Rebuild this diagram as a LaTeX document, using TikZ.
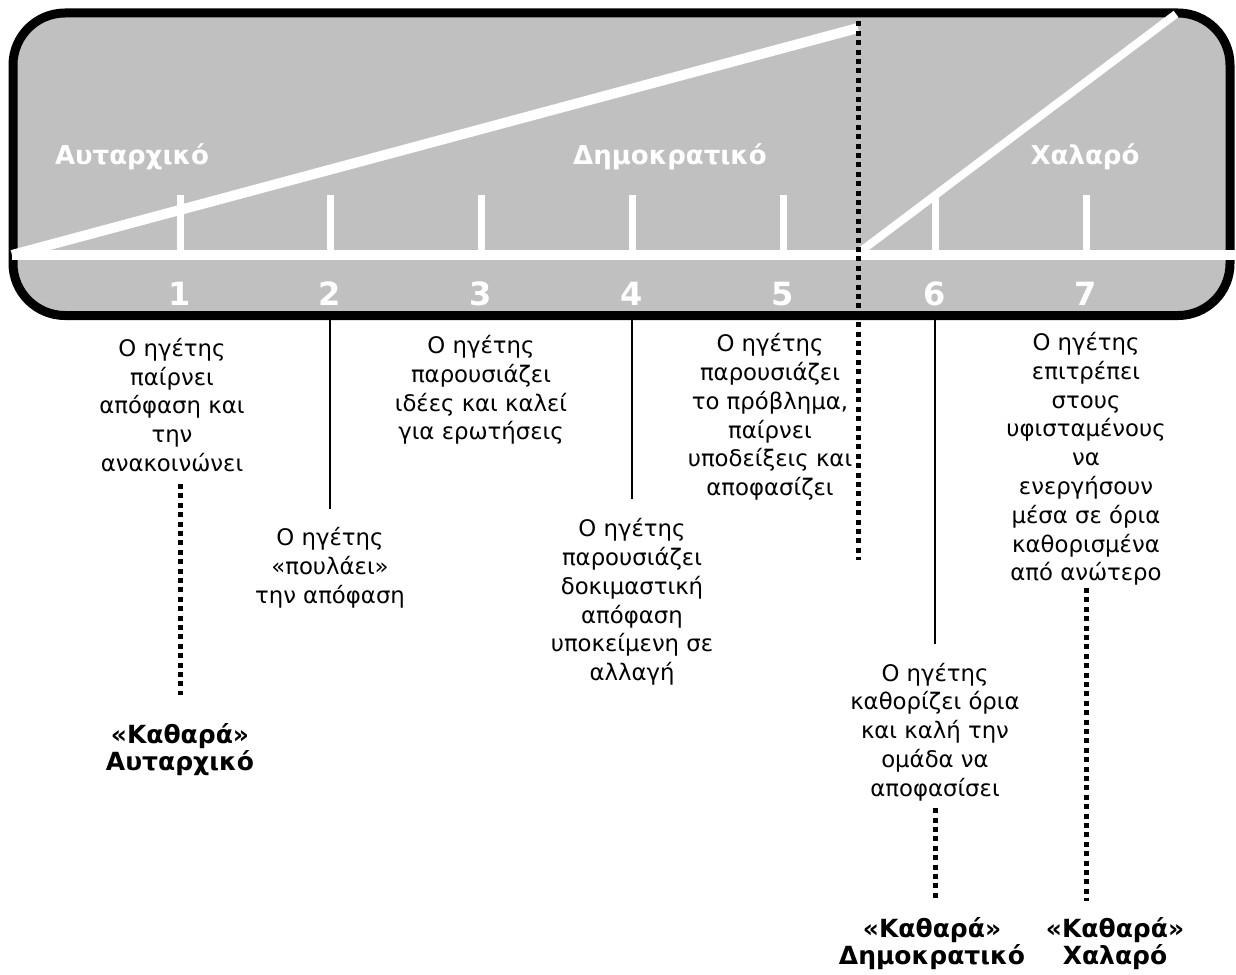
\documentclass[tikz,border=0pt]{standalone}
\usepackage{fontspec}
\setmainfont{DejaVu Sans}
\usetikzlibrary{positioning}

\definecolor{boxgray}{RGB}{192,192,192}

\begin{document}
\begin{tikzpicture}[x=0.5pt,y=-0.5pt,
    desc/.style={align=center,font=\fontsize{11.4}{14.4}\selectfont},
    pure/.style={align=center,font=\fontsize{12.5}{13.5}\selectfont\bfseries},
    num/.style={white,font=\fontsize{16}{18}\selectfont\bfseries},
    kind/.style={white,font=\fontsize{13}{16}\selectfont\bfseries},
    bar/.style={white,line width=3.5pt},
    link/.style={line width=1pt},
    dots/.style={line width=2.5pt,dash pattern=on 2.5pt off 2.2pt}]
            \useasboundingbox (0,0) rectangle (1236,974);

            % the scale
            \draw[line width=4.5pt,fill=boxgray,rounded corners=26pt] (13,13) rectangle (1230,315.5);
            \coordinate (A0) at (12,255);
            \coordinate (A1) at (1236,255);
            \coordinate (T1) at (858,28);
            \coordinate (C0) at (861,251);
            \coordinate (T2) at (1176,14);
            \draw[white,line width=5pt] (A0) -- (A1);
            \draw[white,line width=5pt] (A0) -- (T1);
            \draw[white,line width=4pt] (C0) -- (T2);
            \foreach \x/\n in {180/1,330/2,481/3,632/4,783/5,935/6,1086/7}{
                \draw[bar] (\x,195) -- (\x,253);
                \node[num] (n\n) at (\x,294) {\n};
            }
            \node[kind] (K1) at (132,157) {Αυταρχικό};
            \node[kind] (K2) at (670,157) {Δημοκρατικό};
            \node[kind] (K3) at (1085,157) {Χαλαρό};

            % the split between 5 and 6
            \coordinate (S0) at (858,12);
            \coordinate (S1) at (858,560);
            \draw[dots] (S0) -- (S1);

            % what the leader does
            \node[desc] (D1) at (172,405) {Ο ηγέτης\\παίρνει\\απόφαση και\\την\\ανακοινώνει};
            \node[desc] (D2) at (330,568) {Ο ηγέτης\\«πουλάει»\\την απόφαση};
            \node[desc] (D3) at (481,390) {Ο ηγέτης\\παρουσιάζει\\ιδέες και καλεί\\για ερωτήσεις};
            \node[desc] (D4) at (632,602) {Ο ηγέτης\\παρουσιάζει\\δοκιμαστική\\απόφαση\\υποκείμενη σε\\αλλαγή};
            \node[desc] (D5) at (770,417) {Ο ηγέτης\\παρουσιάζει\\το πρόβλημα,\\παίρνει\\υποδείξεις και\\αποφασίζει};
            \node[desc] (D6) at (935,732) {Ο ηγέτης\\καθορίζει όρια\\και καλή την\\ομάδα να\\αποφασίσει};
            \node[desc] (D7) at (1086,459) {Ο ηγέτης\\επιτρέπει\\στους\\υφισταμένους\\να\\ενεργήσουν\\μέσα σε όρια\\καθορισμένα\\από ανώτερο};

            % the pure styles
            \node[pure] (P1) at (180,750) {«Καθαρά»\\Αυταρχικό};
            \node[pure] (P6) at (932,944) {«Καθαρά»\\Δημοκρατικό};
            \node[pure] (P7) at (1115,944) {«Καθαρά»\\Χαλαρό};

            \coordinate (B2) at (330,320);
            \coordinate (B4) at (632,320);
            \coordinate (B6) at (935,320);
            \coordinate (U1) at (180,484);
            \coordinate (U7) at (1086,588);
            \path[link]
                (B2) edge [shorten >=6pt] (D2.north)
                (B4) edge [shorten >=6pt] (D4.north)
                (B6) edge [shorten >=6pt] (D6.north);
            \path[dots]
                (U1) edge [shorten >=11pt] (U1 |- P1.north)
                (D6.south) edge [shorten >=5pt] (D6.south |- P6.north)
                (U7) edge [shorten >=5pt] (U7 |- P7.north);
\end{tikzpicture}
\end{document}
